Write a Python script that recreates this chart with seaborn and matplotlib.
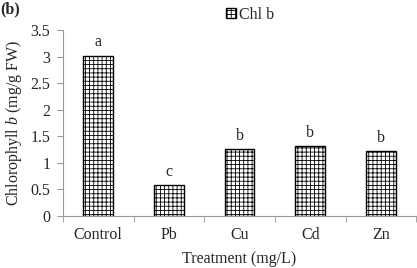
import pandas as pd
import matplotlib
matplotlib.use('Agg')
import matplotlib.pyplot as plt
import seaborn as sns

treatments = ['Control', 'Pb', 'Cu', 'Cd', 'Zn']
chl_b = [3.02, 0.58, 1.26, 1.31, 1.22]
letters = ['a', 'c', 'b', 'b', 'b']
yticks = [0, 0.5, 1, 1.5, 2, 2.5, 3, 3.5]

df = pd.DataFrame({'Treatment': treatments, 'Chl b': chl_b})

sns.set_style('white')
plt.rcParams['font.family'] = ['Liberation Serif', 'DejaVu Serif']
plt.rcParams['mathtext.fontset'] = 'custom'
plt.rcParams['mathtext.rm'] = 'Liberation Serif'
plt.rcParams['mathtext.it'] = 'Liberation Serif:italic'
plt.rcParams['hatch.linewidth'] = 0.6

fs = 11.5

fig = plt.figure(figsize=(4.17, 2.68), dpi=100)
ax = fig.add_axes([0.151, 0.194, 0.847, 0.694])

sns.barplot(data=df, x='Treatment', y='Chl b', color='white', width=0.42,
            edgecolor='black', linewidth=1.0, ax=ax, label='Chl b')
for p in ax.patches:
    p.set_hatch('++++')

for i, (v, t) in enumerate(zip(chl_b, letters)):
    ax.text(i, v + 0.1, t, ha='center', va='bottom', fontsize=fs)

ax.set_ylim(0, 3.5)
ax.set_xlim(-0.5, 4.5)
ax.set_yticks(yticks)
ax.set_yticklabels([f'{t:g}' for t in yticks], fontsize=fs)
ax.tick_params(axis='x', length=0, labelsize=fs, pad=8)
ax.set_xticks([i - 0.5 for i in range(6)], minor=True)
ax.tick_params(axis='x', which='minor', length=4, color='#999999', direction='out')
ax.tick_params(axis='y', length=4, color='#999999', direction='out', pad=5)
ax.tick_params(axis='both', bottom=True, left=True, which='minor')
ax.tick_params(axis='y', left=True)

for s in ['top', 'right']:
    ax.spines[s].set_visible(False)
for s in ['left', 'bottom']:
    ax.spines[s].set_color('#999999')
    ax.spines[s].set_linewidth(0.8)

ax.set_xlabel('Treatment (mg/L)', fontsize=fs, labelpad=6)
ax.set_ylabel('Chlorophyll $\\it{b}$ (mg/g FW)', fontsize=fs, labelpad=5)

ax.legend(loc='center', bbox_to_anchor=(0.6, 0.945), bbox_transform=fig.transFigure,
          frameon=False, fontsize=fs, handlelength=0.6, handleheight=0.6,
          handletextpad=0.2, borderpad=0)

fig.text(0.0, 0.995, '(b)', fontsize=fs, fontweight='bold', ha='left', va='top')

fig.savefig('out.png', dpi=100)
